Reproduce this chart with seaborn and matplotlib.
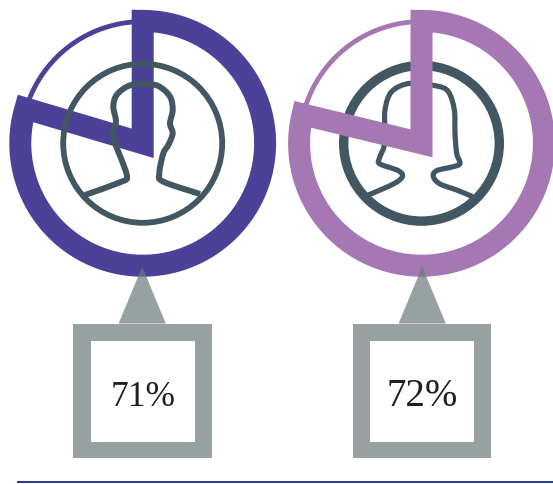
import numpy as np
import matplotlib
matplotlib.use("Agg")
import matplotlib.pyplot as plt
from matplotlib.path import Path
from matplotlib.patches import PathPatch, Circle, Rectangle, Polygon
import seaborn as sns

# Values
labels = [71, 72]                 # printed percentages
sweep_pct = [79.6, 78.8]          # share of the ring actually drawn heavy

# Style
ring_colors = sns.color_palette(["#4C4198", "#A578B3"])
DARK = "#435762"
GREY = "#98A1A2"
GREY_OVER = "#6C797A"
RULE = "#2E3A8F"
INK = "#231F20"

centers_x = [142.7, 421.5]
center_y = 143.3
box_x = [(73, 212), (352.7, 491)]
inner_x = [(91, 195), (370, 474)]
apex_x = [142.2, 422.2]
circle_r = [79.5, 77.8]
circle_lw_px = [5.8, 9.4]
ring_on_top = [False, True]
head_lw_px = [6.0, 5.2]
label_pt = [25.5, 28]

# Head outlines, in zoomed-crop units (3x, crop origin x0)
head_x0 = [0, 280]
head_outline = [
    [(255, 585), (365, 545), (381, 530), (365, 480), (345, 430), (337, 397), (348, 365),
     (340, 320), (350, 285), (385, 258), (430, 252), (475, 258), (510, 290), (518, 330),
     (510, 370), (518, 400), (505, 435), (490, 460), (478, 520), (490, 545), (600, 582)],
    [(265, 585), (340, 552), (367, 530), (355, 512), (300, 492), (298, 475), (312, 440),
     (315, 400), (315, 330), (335, 275), (390, 250), (470, 258), (505, 275), (523, 330),
     (525, 400), (530, 460), (540, 490), (520, 500), (470, 512), (460, 530), (480, 552),
     (530, 570), (578, 590)],
]

W, H = 553, 484
PX = 72 / 100

sns.set_theme(style="white")
plt.rcParams["font.family"] = ["Liberation Serif", "DejaVu Serif"]

fig = plt.figure(figsize=(W / 100, H / 100), dpi=100, facecolor="white")
ax = fig.add_axes([0, 0, 1, 1])
ax.set_xlim(0, W)
ax.set_ylim(H, 0)
ax.set_xticks([])
ax.set_yticks([])
sns.despine(ax=ax, left=True, bottom=True)


def smooth_path(pts):
    p = np.asarray(pts, float)
    verts = [p[0]]
    codes = [Path.MOVETO]
    for i in range(len(p) - 1):
        p0 = p[max(i - 1, 0)]
        p1, p2 = p[i], p[i + 1]
        p3 = p[min(i + 2, len(p) - 1)]
        verts += [p1 + (p2 - p0) / 6, p2 - (p3 - p1) / 6, p2]
        codes += [Path.CURVE4] * 3
    return Path(verts, codes)


def draw_ring(cx, pct, color, z):
    R, lw = 122.4, 22.0
    end = np.radians(pct / 100 * 360)
    t = np.linspace(0, end, 240)
    xs = cx + R * np.sin(t)
    ys = center_y - R * np.cos(t)
    verts = [(cx, center_y)] + list(zip(xs, ys)) + [(cx, center_y)]
    codes = [Path.MOVETO] + [Path.LINETO] * len(xs) + [Path.CLOSEPOLY]
    ax.add_patch(PathPatch(Path(verts, codes), fc="none", ec=color, lw=lw * PX,
                           joinstyle="miter", capstyle="butt", zorder=z))
    t2 = np.linspace(end, 2 * np.pi, 120)
    ax.plot(cx + 121.7 * np.sin(t2), center_y - 121.7 * np.cos(t2), color=color,
            lw=4.8 * PX, solid_capstyle="butt", zorder=z - 0.1)


for i, v in enumerate(labels):
    cx = centers_x[i]
    z_ring = 5 if ring_on_top[i] else 2
    draw_ring(cx, sweep_pct[i], ring_colors[i], z_ring)
    ax.add_patch(Circle((cx, center_y), circle_r[i], fc="none", ec=DARK,
                        lw=circle_lw_px[i] * PX, zorder=3))
    pts = [(head_x0[i] + a / 3, b / 3) for a, b in head_outline[i]]
    ax.add_patch(PathPatch(smooth_path(pts), fc="none", ec=DARK,
                           lw=head_lw_px[i] * PX, joinstyle="round",
                           capstyle="butt", zorder=3))
    # call-out pointer
    ax.add_patch(Polygon([(apex_x[i], 266.7), (apex_x[i] - 23.6, 323.5), (apex_x[i] + 23.6, 323.5)],
                         closed=True, fc=GREY_OVER, ec="none", alpha=0.7, zorder=6))
    # call-out box
    x0, x1 = box_x[i]
    ax.add_patch(Rectangle((x0, 323.5), x1 - x0, 134.8, fc=GREY, ec="none", zorder=6))
    ix0, ix1 = inner_x[i]
    ax.add_patch(Rectangle((ix0, 341), ix1 - ix0, 101, fc="white", ec="none", zorder=7))
    ax.text((ix0 + ix1) / 2 + 0.5, 406.5, f"{v}%", ha="center", va="baseline",
            fontsize=label_pt[i], color=INK, zorder=8)

ax.plot([17, W], [481.7, 481.7], color=RULE, lw=2 * PX, solid_capstyle="butt", zorder=1)

fig.savefig("out.png", dpi=100, facecolor="white")
